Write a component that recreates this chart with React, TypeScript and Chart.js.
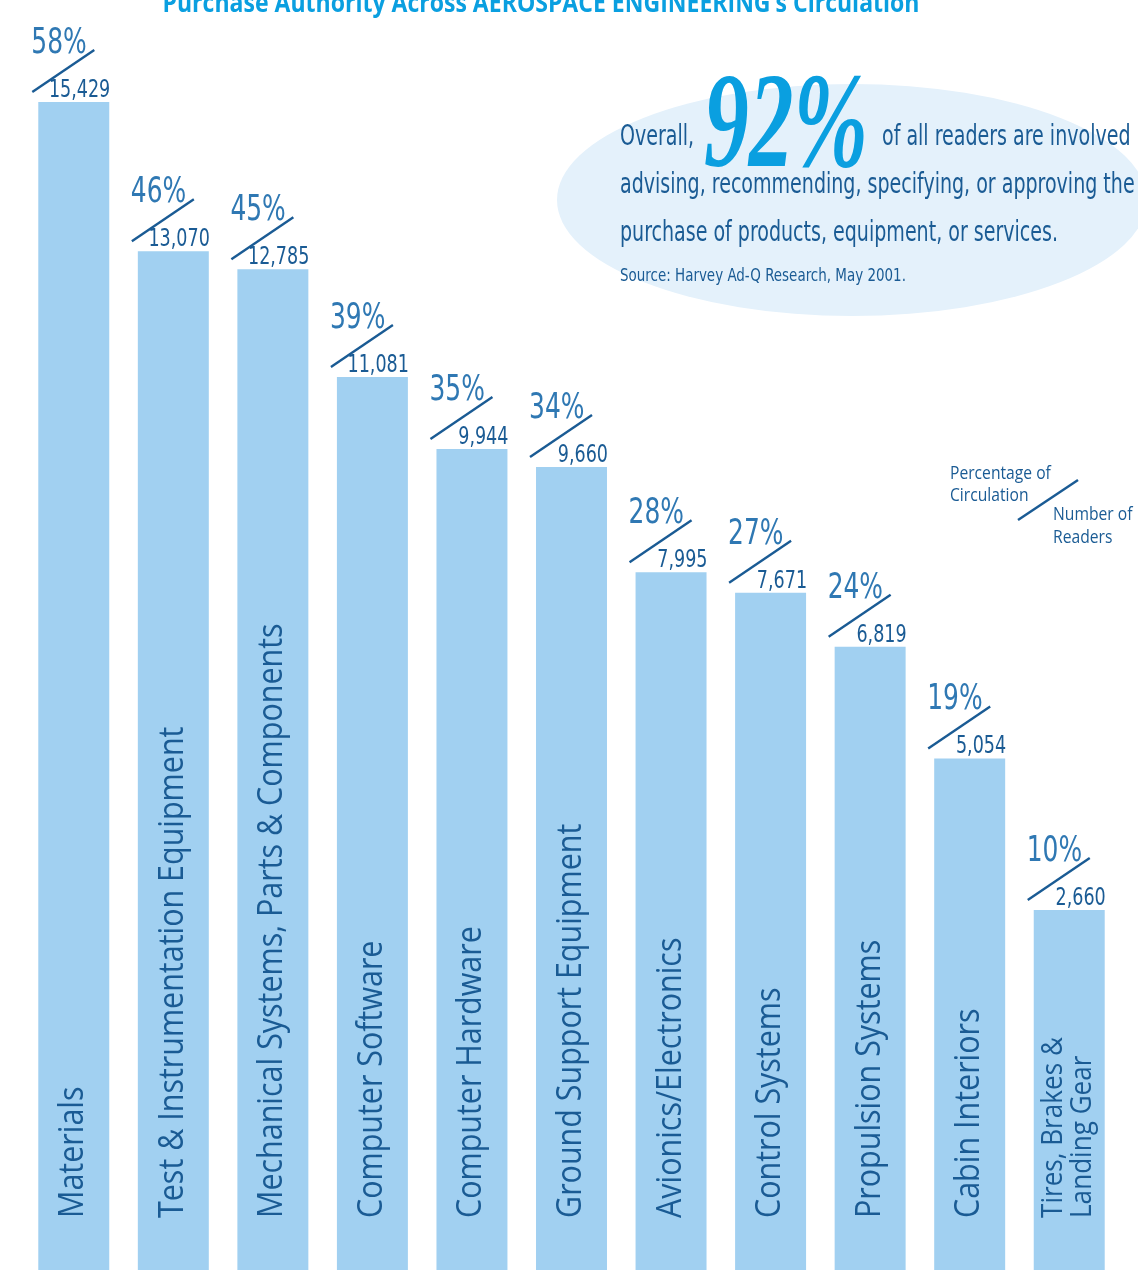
import React, { useEffect, useRef } from "react";
import { Chart, registerables } from "chart.js";

Chart.register(...registerables);

// ---------------- data ----------------
const categories: string[][] = [
  ["Materials"],
  ["Test & Instrumentation Equipment"],
  ["Mechanical Systems, Parts & Components"],
  ["Computer Software"],
  ["Computer Hardware"],
  ["Ground Support Equipment"],
  ["Avionics/Electronics"],
  ["Control Systems"],
  ["Propulsion Systems"],
  ["Cabin Interiors"],
  ["Tires, Brakes &", "Landing Gear"],
];
const readers = [15429, 13070, 12785, 11081, 9944, 9660, 7995, 7671, 6819, 5054, 2660];
const percentages = [58, 46, 45, 39, 35, 34, 28, 27, 24, 19, 10];

const titleText = "Purchase Authority Across AEROSPACE ENGINEERING\u2019s Circulation";
const calloutLead = "Overall,";
const calloutBig = "92%";
const calloutLine1 = "of all readers are involved in";
const calloutLine2 = "advising, recommending, specifying, or approving the";
const calloutLine3 = "purchase of products, equipment, or services.";
const calloutSource = "Source: Harvey Ad-Q Research, May 2001.";
const legendLeft = ["Percentage of", "Circulation"];
const legendRight = ["Number of", "Readers"];

const Y_MIN = -3030;
const Y_MAX = 17040;

// ---------------- styles ----------------
const BAR = "#a1d0f1";
const DARK = "#1a5b94";
const MID = "#2f78b3";
const BRIGHT = "#0a9fe0";
const ELLIPSE = "#e4f1fb";
const NARROW = '"Liberation Sans Narrow", "DejaVu Sans Condensed", "Arial Narrow", sans-serif';
const HUMAN = '"Open Sans", "DejaVu Sans", sans-serif';

function sqText(ctx: CanvasRenderingContext2D, t: string, x: number, y: number, squash: number) {
  const w = ctx.measureText(t).width;
  ctx.fillText(t, x, y, w * squash);
}

const decorPlugin = {
  id: "decor",
  beforeDraw(chart: any) {
    const ctx: CanvasRenderingContext2D = chart.ctx;
    ctx.save();
    ctx.fillStyle = ELLIPSE;
    ctx.beginPath();
    ctx.ellipse(852, 200, 295, 116, 0, 0, Math.PI * 2);
    ctx.fill();
    ctx.restore();
  },
  afterDatasetsDraw(chart: any) {
    const ctx: CanvasRenderingContext2D = chart.ctx;
    const meta = chart.getDatasetMeta(0);
    ctx.save();
    meta.data.forEach((bar: any, i: number) => {
      const { x, y, width } = bar.getProps(["x", "y", "width"], true);
      const left = x - width / 2;
      const right = x + width / 2;
      const bottom = chart.chartArea.bottom;

      // rotated category label
      const lines = categories[i];
      const size = lines.length > 1 ? 30 : 35;
      const capH = size * 0.714;
      const lineH = size * 0.97;
      ctx.save();
      ctx.translate(x, bottom - 52);
      ctx.rotate(-Math.PI / 2);
      ctx.font = `${size}px ${HUMAN}`;
      ctx.fillStyle = DARK;
      ctx.textAlign = "left";
      ctx.textBaseline = "alphabetic";
      lines.forEach((ln, k) => {
        const base = -3 + capH / 2 + (k - (lines.length - 1) / 2) * lineH;
        sqText(ctx, ln, 0, base, 0.87);
      });
      ctx.restore();

      // slash
      ctx.strokeStyle = DARK;
      ctx.lineWidth = 2.4;
      ctx.beginPath();
      ctx.moveTo(left - 6, y - 10);
      ctx.lineTo(left + 56, y - 52);
      ctx.stroke();

      // number of readers
      ctx.font = `25px ${NARROW}`;
      ctx.fillStyle = DARK;
      ctx.textAlign = "left";
      ctx.textBaseline = "alphabetic";
      const num = readers[i].toLocaleString("en-US");
      const nw = ctx.measureText(num).width * 0.78;
      ctx.fillText(num, right + 1 - nw, y - 5, nw);

      // percentage
      ctx.font = `36px ${NARROW}`;
      ctx.fillStyle = MID;
      ctx.textAlign = "left";
      sqText(ctx, `${percentages[i]}%`, left - 7, y - 49, 0.77);
    });
    ctx.restore();
  },
  afterDraw(chart: any) {
    const ctx: CanvasRenderingContext2D = chart.ctx;
    ctx.save();
    // title
    ctx.font = `bold 26px ${HUMAN}`;
    ctx.fillStyle = BRIGHT;
    ctx.textAlign = "center";
    ctx.textBaseline = "alphabetic";
    ctx.fillText(titleText, 541, 12, 757);

    // callout
    ctx.textAlign = "left";
    ctx.fillStyle = DARK;
    ctx.font = `29px ${NARROW}`;
    sqText(ctx, calloutLead, 620, 145, 0.73);
    sqText(ctx, calloutLine1, 882, 145, 0.73);
    sqText(ctx, calloutLine2, 620, 193, 0.73);
    sqText(ctx, calloutLine3, 620, 241, 0.73);
    ctx.font = `17px ${NARROW}`;
    sqText(ctx, calloutSource, 620, 281, 0.88);

    ctx.font = `italic bold 136px "Liberation Serif", "DejaVu Serif", serif`;
    ctx.fillStyle = BRIGHT;
    ctx.fillText(calloutBig, 704, 166, 164);

    // legend
    ctx.font = `18px ${HUMAN}`;
    ctx.fillStyle = DARK;
    sqText(ctx, legendLeft[0], 950, 479, 0.87);
    sqText(ctx, legendLeft[1], 950, 501, 0.87);
    sqText(ctx, legendRight[0], 1053, 520, 0.87);
    sqText(ctx, legendRight[1], 1053, 543, 0.87);
    ctx.strokeStyle = DARK;
    ctx.lineWidth = 2.4;
    ctx.beginPath();
    ctx.moveTo(1018, 520);
    ctx.lineTo(1078, 480);
    ctx.stroke();
    ctx.restore();
  },
};

export default function App() {
  const ref = useRef<HTMLCanvasElement | null>(null);
  useEffect(() => {
    if (!ref.current) return;
    const chart = new Chart(ref.current, {
      type: "bar",
      data: {
        labels: categories.map((c) => c.join(" ")),
        datasets: [
          {
            data: readers,
            backgroundColor: BAR,
            borderWidth: 0,
            base: Y_MIN,
            categoryPercentage: 1,
            barPercentage: 0.713,
          } as any,
        ],
      },
      options: {
        animation: false,
        responsive: false,
        layout: { padding: { left: 24, right: 19, top: 0, bottom: 0 } },
        scales: {
          x: { display: false },
          y: { display: false, min: Y_MIN, max: Y_MAX },
        },
        plugins: { legend: { display: false }, tooltip: { enabled: false } },
      },
      plugins: [decorPlugin],
    });
    return () => chart.destroy();
  }, []);
  return (
    <div style={{ position: "absolute", left: 0, top: 0, width: 1138, height: 1270, background: "#fff" }}>
      <canvas ref={ref} width={1138} height={1270} style={{ width: 1138, height: 1270, display: "block" }} />
    </div>
  );
}
